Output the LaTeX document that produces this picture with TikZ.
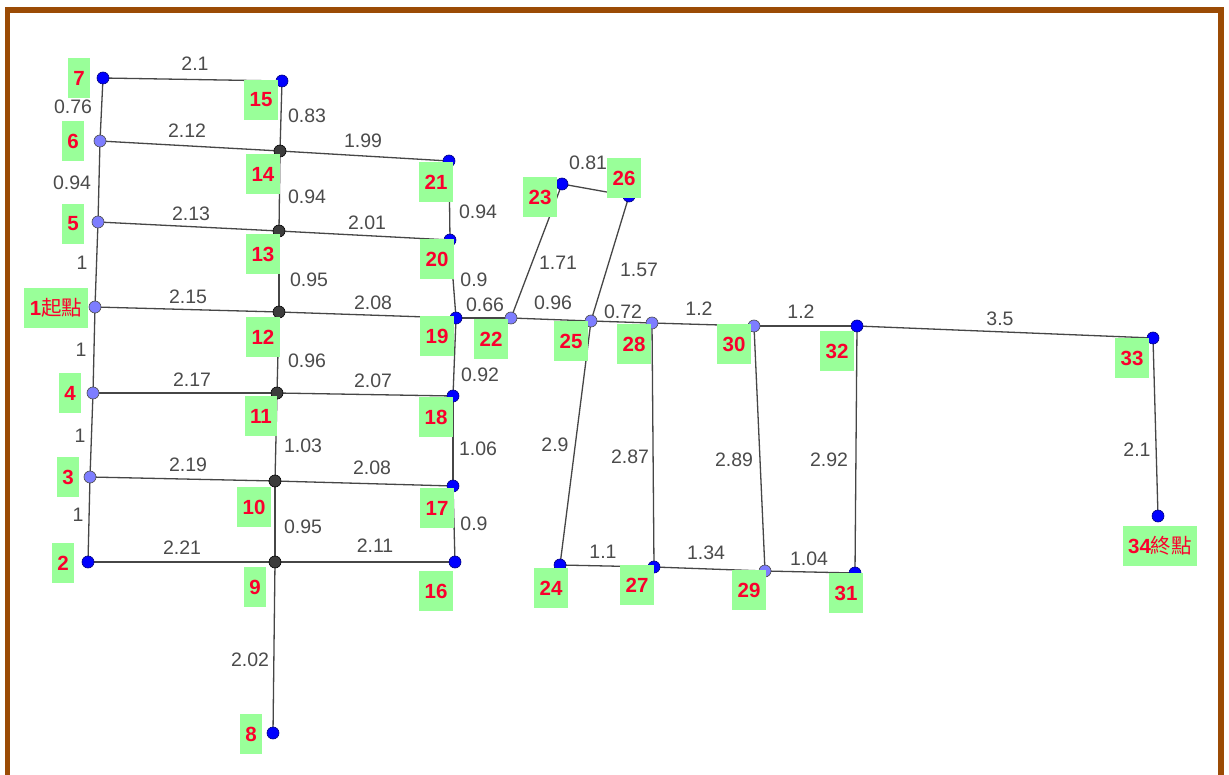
\documentclass[tikz,border=0pt]{standalone}
\usepackage{fontspec}
\setmainfont{Liberation Sans}
\newfontfamily\cjk{Noto Sans CJK TC}
\usetikzlibrary{backgrounds}
\definecolor{framebrown}{RGB}{155,75,5}
\definecolor{boxgreen}{RGB}{153,255,153}
\definecolor{labred}{RGB}{250,0,45}
\definecolor{ptblue}{RGB}{0,0,255}
\definecolor{ptpurple}{RGB}{125,125,255}
\definecolor{ptdark}{RGB}{60,60,60}
\definecolor{edgegray}{RGB}{70,70,70}
\definecolor{numgray}{RGB}{75,75,75}
\tikzset{
  pt/.style={circle,inner sep=0pt,minimum size=12pt,draw=black!75,line width=0.6pt},
  bpt/.style={pt,fill=ptblue,draw=ptblue!50!black},
  ppt/.style={pt,fill=ptpurple,draw=black!70},
  dpt/.style={pt,fill=ptdark,draw=black},
  tag/.style={fill=boxgreen,text=labred,font=\fontsize{20.5}{22}\selectfont\bfseries,inner xsep=5.5pt,inner ysep=0pt,minimum height=40pt},
  len/.style={text=numgray,font=\fontsize{19.5}{21}\selectfont,inner sep=1pt},
  edge/.style={draw=edgegray,line width=1.3pt}
}
\begin{document}
\begin{tikzpicture}[x=1pt,y=-1pt]
\useasboundingbox (0,0) rectangle (1229,775);
\begin{scope}[on background layer]
\fill[white] (0,0) rectangle (1229,775);
\end{scope}
% frame
\fill[framebrown] (5,7) rectangle (10,775);
\fill[framebrown] (1218,7) rectangle (1224,775);
\fill[framebrown] (5,7) rectangle (1224,13);
% points
\node[ppt] (p1) at (95,307) {};
\node[bpt] (p2) at (88,562) {};
\node[ppt] (p3) at (90,477) {};
\node[ppt] (p4) at (93,393) {};
\node[ppt] (p5) at (98,222) {};
\node[ppt] (p6) at (100,141) {};
\node[bpt] (p7) at (103,78) {};
\node[bpt] (p8) at (273,733) {};
\node[dpt] (p9) at (275,562) {};
\node[dpt] (p10) at (275,481) {};
\node[dpt] (p11) at (277,393) {};
\node[dpt] (p12) at (279,312) {};
\node[dpt] (p13) at (279,231) {};
\node[dpt] (p14) at (280,151) {};
\node[bpt] (p15) at (282,81) {};
\node[bpt] (p16) at (455,562) {};
\node[bpt] (p17) at (453,486) {};
\node[bpt] (p18) at (453,396) {};
\node[bpt] (p19) at (456,318) {};
\node[bpt] (p20) at (450,240) {};
\node[bpt] (p21) at (449,161) {};
\node[ppt] (p22) at (511,318) {};
\node[bpt] (p23) at (562,184) {};
\node[bpt] (p24) at (560,565) {};
\node[ppt] (p25) at (591,321) {};
\node[bpt] (p26) at (629,196) {};
\node[bpt] (p27) at (654,567) {};
\node[ppt] (p28) at (652,323) {};
\node[ppt] (p29) at (765,571) {};
\node[ppt] (p30) at (754,326) {};
\node[bpt] (p31) at (855,573) {};
\node[bpt] (p32) at (857,326) {};
\node[bpt] (p33) at (1153,338) {};
\node[bpt] (p34) at (1158,516) {};
% edges
\begin{scope}[on background layer]
\foreach \a/\b in {7/15,7/6,6/14,15/14,14/21,6/5,5/13,14/13,13/20,21/20,5/1,1/12,13/12,12/19,20/19,19/22,22/23,22/25,23/26,25/26,25/28,28/30,30/32,32/33,33/34,1/4,4/11,12/11,11/18,19/18,4/3,3/10,11/10,10/17,18/17,3/2,2/9,10/9,9/16,17/16,9/8,25/24,28/27,30/29,32/31,24/27,27/29,29/31}
  \draw[edge] (p\a.center) -- (p\b.center);
\end{scope}
% point tags
\node[tag] (t7) at (79,78) {7};
\node[tag] (t15) at (261,100) {15};
\node[tag] (t6) at (73,141) {6};
\node[tag] (t14) at (263,174) {14};
\node[tag] (t5) at (73,224) {5};
\node[tag] (t13) at (263,254) {13};
\node[tag] (t1) at (56,308) {1{\cjk\mdseries 起點}};
\node[tag] (t12) at (263,337) {12};
\node[tag] (t4) at (70,393) {4};
\node[tag] (t11) at (261,416) {11};
\node[tag] (t3) at (68,477) {3};
\node[tag] (t10) at (254,507) {10};
\node[tag] (t2) at (63,563) {2};
\node[tag] (t9) at (255,587) {9};
\node[tag] (t16) at (436,591) {16};
\node[tag] (t8) at (251,734) {8};
\node[tag] (t21) at (436,182) {21};
\node[tag] (t20) at (437,259) {20};
\node[tag] (t19) at (437,336) {19};
\node[tag] (t18) at (436,417) {18};
\node[tag] (t17) at (437,508) {17};
\node[tag] (t22) at (491,339) {22};
\node[tag] (t23) at (540,197) {23};
\node[tag] (t26) at (624,178) {26};
\node[tag] (t25) at (571,341) {25};
\node[tag] (t28) at (634,344) {28};
\node[tag] (t30) at (734,344) {30};
\node[tag] (t32) at (837,351) {32};
\node[tag] (t24) at (551,588) {24};
\node[tag] (t27) at (637,585) {27};
\node[tag] (t29) at (749,590) {29};
\node[tag] (t31) at (846,593) {31};
\node[tag] (t33) at (1132,358) {33};
\node[tag] (t34) at (1160,546) {34{\cjk\mdseries 終點}};
% lengths
\node[len] (l7-15) at (195,64) {2.1};
\node[len] (l7-6) at (73,107) {0.76};
\node[len] (l6-14) at (187,131) {2.12};
\node[len] (l15-14) at (307,116) {0.83};
\node[len] (l14-21) at (363,141) {1.99};
\node[len] (l6-5) at (72,183) {0.94};
\node[len] (l5-13) at (191,214) {2.13};
\node[len] (l14-13) at (307,197) {0.94};
\node[len] (l13-20) at (367,223) {2.01};
\node[len] (l21-20) at (478,212) {0.94};
\node[len] (l5-1) at (82,263) {1};
\node[len] (l1-12) at (188,297) {2.15};
\node[len] (l13-12) at (309,280) {0.95};
\node[len] (l12-19) at (373,303) {2.08};
\node[len] (l20-19) at (474,280) {0.9};
\node[len] (l19-22) at (485,305) {0.66};
\node[len] (l22-23) at (558,263) {1.71};
\node[len] (l22-25) at (553,303) {0.96};
\node[len] (l23-26) at (588,163) {0.81};
\node[len] (l25-26) at (639,270) {1.57};
\node[len] (l25-28) at (623,312) {0.72};
\node[len] (l28-30) at (699,309) {1.2};
\node[len] (l30-32) at (801,312) {1.2};
\node[len] (l32-33) at (1000,319) {3.5};
\node[len] (l33-34) at (1137,450) {2.1};
\node[len] (l1-4) at (81,350) {1};
\node[len] (l4-11) at (192,380) {2.17};
\node[len] (l12-11) at (307,361) {0.96};
\node[len] (l11-18) at (373,381) {2.07};
\node[len] (l19-18) at (480,375) {0.92};
\node[len] (l4-3) at (80,436) {1};
\node[len] (l3-10) at (188,465) {2.19};
\node[len] (l11-10) at (303,446) {1.03};
\node[len] (l10-17) at (372,468) {2.08};
\node[len] (l18-17) at (478,449) {1.06};
\node[len] (l3-2) at (78,515) {1};
\node[len] (l2-9) at (182,548) {2.21};
\node[len] (l10-9) at (303,527) {0.95};
\node[len] (l9-16) at (375,546) {2.11};
\node[len] (l17-16) at (474,524) {0.9};
\node[len] (l9-8) at (250,660) {2.02};
\node[len] (l25-24) at (555,445) {2.9};
\node[len] (l28-27) at (630,457) {2.87};
\node[len] (l30-29) at (734,460) {2.89};
\node[len] (l32-31) at (829,460) {2.92};
\node[len] (l24-27) at (603,552) {1.1};
\node[len] (l27-29) at (706,553) {1.34};
\node[len] (l29-31) at (809,559) {1.04};
\end{tikzpicture}
\end{document}
